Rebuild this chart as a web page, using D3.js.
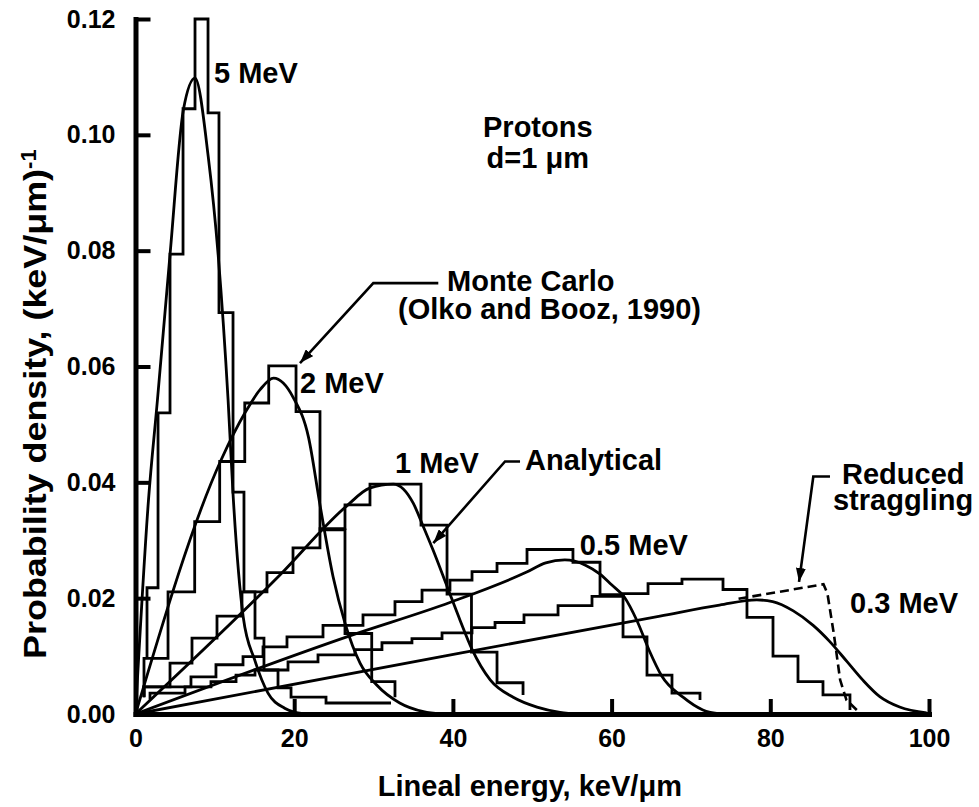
<!DOCTYPE html>
<meta charset="utf-8">
<style>
body { margin: 0; background: #fff; }
svg { font-family: "Liberation Sans", Arial, Helvetica, sans-serif; font-weight: bold; }
.hist, .curve { fill: none; stroke: #000; stroke-width: 2.8; stroke-linejoin: miter; }
.dash { fill: none; stroke: #000; stroke-width: 2.6; stroke-dasharray: 9,5; }
.axis path { stroke: #000; stroke-width: 5; }
.axis line { stroke: #000; stroke-width: 4; }
.axis text { font-size: 25px; font-weight: bold; fill: #000; font-family: "Liberation Sans", Arial, sans-serif; }
.lab { font-size: 29px; fill: #000; }
.ptr { fill: none; stroke: #000; stroke-width: 2.6; }
</style>
<body>
<script src="https://cdnjs.cloudflare.com/ajax/libs/d3/7.8.5/d3.min.js"></script>
<script>
var w = 979, h = 807;
var svg = d3.select("body").append("svg").attr("width", w).attr("height", h),
    margin = {top: 19, right: 50, bottom: 93, left: 135.5},
    width = w - margin.left - margin.right,
    height = h - margin.top - margin.bottom;

var xTicks = [0, 20, 40, 60, 80, 100];
var yTicks = [0, 0.02, 0.04, 0.06, 0.08, 0.10, 0.12];

// Monte Carlo histograms: bin edges (keV/um) and density in each bin
var mc5Edges = [1.45, 2.84, 4.35, 5.99, 7.50, 9.14, 10.52, 12.29, 13.67, 15.06, 16.19, 17.96, 19.60, 24.01, 32.20];
var mc5 = [0.0218, 0.0520, 0.0794, 0.1045, 0.1200, 0.1038, 0.0693, 0.0383, 0.0211, 0.0131, 0.0076, 0.0045, 0.0029, 0.0019];
var mc2Edges = [1.07, 4.10, 7.46, 10.61, 13.77, 16.79, 20.23, 23.25, 26.40, 29.77, 32.70];
var mc2 = [0.0096, 0.0211, 0.0332, 0.0436, 0.0537, 0.0601, 0.0522, 0.0318, 0.0139, 0.0056];
var mc1Edges = [1.07, 4.35, 7.12, 10.27, 13.42, 16.57, 19.85, 23.25, 26.40, 29.55, 35.98, 39.26, 42.34, 45.56, 48.84];
var mc1 = [0.0047, 0.0088, 0.0131, 0.0169, 0.0211, 0.0244, 0.0287, 0.0320, 0.0361, 0.0397, 0.0326, 0.0207, 0.0107, 0.0054];
var mc05Edges = [1.07, 6.99, 10.14, 13.55, 16.07, 19.09, 23.63, 28.67, 32.70, 36.11, 39.63, 42.41, 45.56, 49.34, 55.13, 58.54, 61.44, 64.46, 67.61, 71.14];
var mc05 = [0.0047, 0.0064, 0.0085, 0.0099, 0.0116, 0.0133, 0.0153, 0.0171, 0.0194, 0.0214, 0.0231, 0.0246, 0.0260, 0.0284, 0.0262, 0.0206, 0.0133, 0.0067, 0.0036];
var mc03Edges = [1.83, 6.24, 9.51, 12.67, 15.06, 19.22, 23.00, 27.66, 31.06, 34.84, 38.63, 42.41, 45.31, 48.96, 53.25, 57.53, 61.44, 64.59, 68.87, 74.04, 77.06, 80.34, 83.49, 86.64, 90.04];
var mc03 = [0.0036, 0.0047, 0.0056, 0.0067, 0.0076, 0.0090, 0.0102, 0.0111, 0.0123, 0.0130, 0.0140, 0.0149, 0.0158, 0.0171, 0.0187, 0.0203, 0.0208, 0.0225, 0.0233, 0.0215, 0.0167, 0.0100, 0.0056, 0.0033];
// density where each histogram outline starts and ends
var mcStart = {mc5: 0.0097, mc2: 0.0029, mc1: 0.0029, mc05: 0.0030, mc03: 0.0025};
var mcEnd = {mc5: 0.0019, mc2: 0.0029, mc1: 0.0033, mc05: 0.0024, mc03: 0.0007};

// analytical curves [y, density]
var an5 = [[0,0],[1.64,0.037],[2.75,0.054],[4.35,0.0793],[6.03,0.1043],[7.5,0.1098],[9.17,0.0962],[10.44,0.0789],[11.67,0.0542],[12.3,0.0378],[13.57,0.0168],[15.03,0.0093],[16.7,0.0036],[18.8,0.0010],[20.1,0.0003],[22,0]];
var an2 = [[0,0],[10.8,0.0439],[13.8,0.0520],[15.7,0.0560],[17.4,0.0580],[19.9,0.0546],[21.8,0.0478],[23.25,0.0361],[24.9,0.0237],[26.4,0.0157],[28.3,0.0088],[30.4,0.0050],[33.3,0.0019],[36.3,0.0004],[38.5,0]];
var an1 = [[0,0],[18.2,0.0240],[26.6,0.0359],[29.5,0.0390],[32.5,0.0397],[35.0,0.0364],[36.2,0.0326],[37.5,0.0283],[39.3,0.0219],[40.9,0.0162],[42.4,0.0112],[44.7,0.0059],[47.6,0.0029],[50.6,0.0012],[53.5,0.0003],[56,0]];
var an05 = [[0,0],[27.0,0.0135],[39.7,0.0193],[49.3,0.0245],[51.7,0.0261],[54.1,0.0266],[56.7,0.0257],[58.5,0.0242],[60.0,0.0223],[61.6,0.0202],[63.2,0.0161],[64.7,0.0111],[66.3,0.0066],[69.0,0.0029],[71.5,0.0007],[73.7,0]];
var an03 = [[0,0],[40.9,0.0105],[66.1,0.0169],[73.6,0.0188],[78.3,0.0197],[80.3,0.0194],[82.9,0.0178],[85.4,0.0153],[87.5,0.0125],[89.7,0.0090],[91.7,0.0058],[93.8,0.0030],[96.3,0.0012],[99.7,0.0002]];
var reduced = [[76.0,0.0199],[86.7,0.0224],[87.2,0.0208],[88.0,0.0139],[88.8,0.0059],[89.6,0.0024],[90.9,0.0007]];

var x = d3.scaleLinear().domain([0, 100]).range([0, 793.5]),
    y = d3.scaleLinear().domain([0, 0.12]).range([695, 0]);

var g = svg.append("g")
    .attr("transform", "translate(" + margin.left + "," + margin.top + ")");

var stepLine = d3.line()
    .x(function(d) { return x(d[0]); })
    .y(function(d) { return y(d[1]); })
    .curve(d3.curveStepAfter);

var smooth = d3.line()
    .x(function(d) { return x(d[0]); })
    .y(function(d) { return y(d[1]); })
    .curve(d3.curveMonotoneX);

var straight = d3.line()
    .x(function(d) { return x(d[0]); })
    .y(function(d) { return y(d[1]); });

function histPoints(edges, vals, y0, y1) {
  var pts = [[edges[0], y0]];
  vals.forEach(function(v, i) { pts.push([edges[i], v]); });
  pts.push([edges[edges.length - 1], vals[vals.length - 1]]);
  pts.push([edges[edges.length - 1], y1]);
  return pts;
}

var hists = [
  histPoints(mc5Edges, mc5, mcStart.mc5, mcEnd.mc5),
  histPoints(mc2Edges, mc2, mcStart.mc2, mcEnd.mc2),
  histPoints(mc1Edges, mc1, mcStart.mc1, mcEnd.mc1),
  histPoints(mc05Edges, mc05, mcStart.mc05, mcEnd.mc05),
  histPoints(mc03Edges, mc03, mcStart.mc03, mcEnd.mc03)
];

g.selectAll(".hist")
  .data(hists)
  .enter().append("path")
    .attr("class", "hist")
    .attr("d", stepLine);

g.selectAll(".curve")
  .data([an5, an2, an1, an05, an03])
  .enter().append("path")
    .attr("class", "curve")
    .attr("d", smooth);

g.append("path")
    .attr("class", "dash")
    .attr("d", straight(reduced));

// axes
g.append("g")
    .attr("class", "axis axis--x")
    .attr("transform", "translate(0," + height + ")")
    .call(d3.axisBottom(x).tickValues(xTicks).tickSize(-15).tickSizeOuter(0).tickPadding(15));

g.append("g")
    .attr("class", "axis axis--y")
    .call(d3.axisLeft(y).tickValues(yTicks).tickFormat(d3.format(".2f")).tickSize(-15).tickSizeOuter(0).tickPadding(20));

g.selectAll(".axis path").attr("stroke-linecap", "square");

// axis titles
svg.append("text")
    .attr("class", "lab")
    .attr("x", margin.left + x(49.7))
    .attr("y", 796)
    .attr("text-anchor", "middle")
    .text("Lineal energy, keV/μm");

var yl = svg.append("text")
    .attr("class", "lab")
    .attr("transform", "translate(46," + (margin.top + y(0.0535)) + ") rotate(-90)")
    .attr("text-anchor", "middle")
    .style("font-size", "31px");
yl.append("tspan")
    .attr("textLength", 490).attr("lengthAdjust", "spacingAndGlyphs")
    .text("Probability density, (keV/μm)");
yl.append("tspan").attr("dy", "-0.45em").style("font-size", "22px").text("-1");

// labels
var labels = [
  {t: "5 MeV", x: 9.89, y: 0.1090},
  {t: "2 MeV", x: 20.73, y: 0.0554},
  {t: "1 MeV", x: 32.70, y: 0.0416},
  {t: "0.5 MeV", x: 56.0, y: 0.0275},
  {t: "0.3 MeV", x: 90.05, y: 0.0174},
  {t: "Monte Carlo", x: 39.26, y: 0.0731},
  {t: "(Olko and Booz, 1990)", x: 33.08, y: 0.0682},
  {t: "Analytical", x: 49.1, y: 0.0421},
  {t: "Reduced", x: 89.04, y: 0.0397},
  {t: "straggling", x: 87.9, y: 0.0352}
];
g.selectAll(".lab")
  .data(labels)
  .enter().append("text")
    .attr("class", "lab")
    .attr("x", function(d) { return x(d.x); })
    .attr("y", function(d) { return y(d.y); })
    .text(function(d) { return d.t; });

g.append("text").attr("class", "lab").attr("text-anchor", "middle")
    .attr("x", x(50.7)).attr("y", y(0.0996)).text("Protons");
g.append("text").attr("class", "lab").attr("text-anchor", "middle")
    .attr("x", x(50.7)).attr("y", y(0.0942)).text("d=1 μm");

// pointer arrows
svg.append("defs").append("marker")
    .attr("id", "head")
    .attr("viewBox", "0 0 14 10")
    .attr("refX", 14).attr("refY", 5)
    .attr("markerWidth", 14).attr("markerHeight", 10)
    .attr("markerUnits", "userSpaceOnUse")
    .attr("orient", "auto")
  .append("path").attr("d", "M0,0L14,5L0,10z").attr("fill", "#000");

var pointers = [
  [[38.16, 0.0744], [29.97, 0.0744], [20.73, 0.0606]],
  [[48.46, 0.0436], [46.57, 0.0436], [37.53, 0.0295]],
  [[87.52, 0.0410], [85.42, 0.0410], [83.62, 0.0228]]
];
g.selectAll(".ptr")
  .data(pointers)
  .enter().append("path")
    .attr("class", "ptr")
    .attr("d", straight)
    .attr("marker-end", "url(#head)");
</script>
</body>
